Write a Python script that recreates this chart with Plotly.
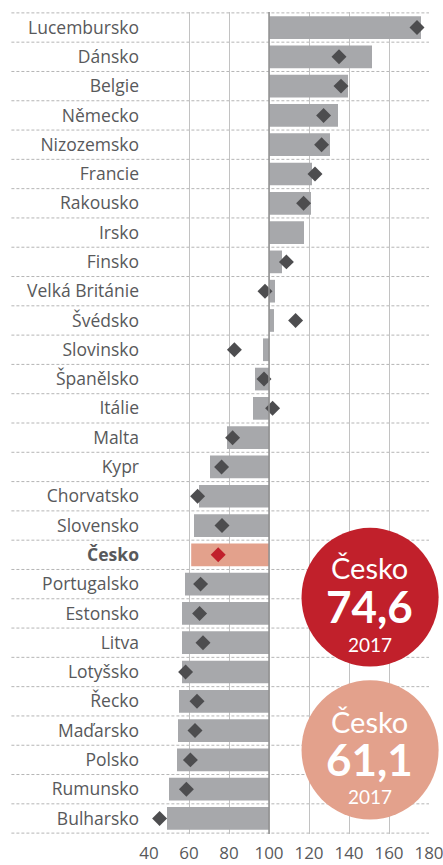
import plotly.graph_objects as go

countries = ["Lucembursko", "Dánsko", "Belgie", "Německo", "Nizozemsko", "Francie",
             "Rakousko", "Irsko", "Finsko", "Velká Británie", "Švédsko", "Slovinsko",
             "Španělsko", "Itálie", "Malta", "Kypr", "Chorvatsko", "Slovensko", "Česko",
             "Portugalsko", "Estonsko", "Litva", "Lotyšsko", "Řecko", "Maďarsko",
             "Polsko", "Rumunsko", "Bulharsko"]
bar_values = [176.0, 151.5, 139.5, 134.5, 130.5, 121.5, 121.0, 117.5, 106.5, 103.0,
              102.5, 97.0, 93.0, 92.0, 79.0, 70.5, 65.0, 62.5, 61.1, 58.0,
              56.5, 56.5, 56.5, 55.0, 54.5, 54.0, 50.0, 49.0]
diamond_values = [174.0, 135.0, 136.0, 127.3, 126.3, 123.0, 117.3, None, 108.7, 98.0,
                  113.3, 82.7, 97.5, 101.8, 81.8, 76.3, 64.3, 76.5, 74.6, 65.8,
                  65.3, 67.0, 58.3, 64.0, 63.0, 60.7, 58.7, 45.3]
x_ticks = [40, 60, 80, 100, 120, 140, 160, 180]
base_value = 100
highlight = "Česko"
badge_top = ["Česko", "74,6", "2017"]
badge_bottom = ["Česko", "61,1", "2017"]

GRAY_BAR = "#a7a8ab"
PINK = "#e3a18c"
RED = "#c1202b"
DARK = "#4d4d4f"
TXT = "#58595b"

W, H = 443, 865
PL, PR = 149.3, 428.7          # plot left/right in page pixels
PT, PB = 12.7, 832.7           # plot top/bottom in page pixels
pw, ph = PR - PL, PB - PT

def px_x(p):
    return (p - PL) / pw

def px_y(p):
    return (PB - p) / ph

bar_colors = [PINK if c == highlight else GRAY_BAR for c in countries]
dia_colors = [RED if c == highlight else DARK for c in countries]
ticktext = ["<b>%s</b>" % c if c == highlight else c for c in countries]

fig = go.Figure()
fig.add_trace(go.Bar(
    y=countries, x=[v - base_value for v in bar_values], base=base_value,
    orientation="h", marker=dict(color=bar_colors, line=dict(width=0)),
    hoverinfo="skip", showlegend=False))
fig.add_trace(go.Scatter(
    y=countries, x=diamond_values, mode="markers",
    marker=dict(symbol="diamond", size=11.5, color=dia_colors, line=dict(width=0)),
    hoverinfo="skip", showlegend=False))

shapes = []
n = len(countries)
for i in range(n + 1):
    shapes.append(dict(type="line", xref="paper", yref="y", x0=px_x(12), x1=1.0,
                       y0=i - 0.5, y1=i - 0.5,
                       line=dict(color="#b5b5b5", width=1, dash="3px,2px"), layer="below"))
shapes.append(dict(type="line", xref="x", yref="paper", x0=base_value, x1=base_value,
                   y0=0, y1=1, line=dict(color="#909090", width=1.5), layer="above"))

# badges
cx = px_x(369.8)
shapes.append(dict(type="circle", xref="paper", yref="paper",
                   x0=px_x(301.5), x1=px_x(438.3), y0=px_y(665.7), y1=px_y(527.3),
                   fillcolor=RED, line=dict(width=0), layer="above"))
shapes.append(dict(type="circle", xref="paper", yref="paper",
                   x0=px_x(301.5), x1=px_x(438.3), y0=px_y(818.3), y1=px_y(679.3),
                   fillcolor=PINK, line=dict(width=0), layer="above"))

annotations = []
def badge(texts, ys):
    sizes = [29, 44, 19]
    for t, y, s, b in zip(texts, ys, sizes, [False, True, False]):
        annotations.append(dict(xref="paper", yref="paper", x=cx, y=px_y(y),
                                text=("<b>%s</b>" % t) if b else t, showarrow=False,
                                xanchor="center", yanchor="middle",
                                font=dict(family="Lato", size=s, color="white")))
badge(badge_top, [567, 605, 644])
badge(badge_bottom, [720, 757.5, 795])

ext = 0.03
ext_px = ext * ph / n
fig.update_layout(
    width=W, height=H,
    margin=dict(l=PL, r=W - PR, t=PT - ext_px, b=H - PB - ext_px, autoexpand=False),
    paper_bgcolor="white", plot_bgcolor="white",
    bargap=0.225,
    shapes=shapes, annotations=annotations,
    font=dict(family="Open Sans", color=TXT),
    xaxis=dict(range=[40, 180], tickvals=x_ticks, showgrid=True, gridcolor="#c2c2c2",
               gridwidth=1.2, zeroline=False, showline=False, ticks="",
               automargin=False,
               ticklabeloverflow="allow", ticklabelstandoff=7,
               tickfont=dict(size=17, color=TXT), fixedrange=True),
    yaxis=dict(categoryorder="array", categoryarray=countries, automargin=False,
               range=[n - 0.5 + ext, -0.5 - ext], tickvals=countries, ticktext=ticktext,
               showgrid=False, zeroline=False, showline=False, ticks="",
               ticklabelstandoff=9, tickfont=dict(size=17.5, color=TXT), fixedrange=True),
)
fig.write_html(
    "out.html",
    config={"displayModeBar": False},
    post_script="document.body.style.margin='0';document.documentElement.style.overflow='hidden';",
)
